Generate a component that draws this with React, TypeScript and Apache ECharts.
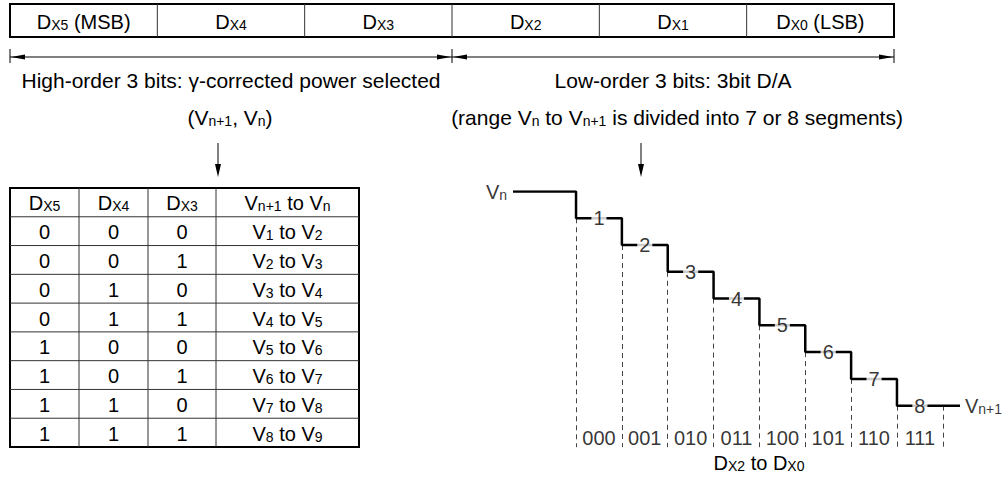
import React, { useEffect, useRef } from 'react';
import * as echarts from 'echarts';

// ---- data ----
const bitFieldSubs = ['X5', 'X4', 'X3', 'X2', 'X1', 'X0'];
const bitFieldNotes = [' (MSB)', '', '', '', '', ' (LSB)'];
const groupLabels = ['High-order 3 bits: γ-corrected power selected', 'Low-order 3 bits: 3bit D/A'];
const tableHeaderSubs = ['X5', 'X4', 'X3'];
const tableDx5 = [0, 0, 0, 0, 1, 1, 1, 1];
const tableDx4 = [0, 0, 1, 1, 0, 0, 1, 1];
const tableDx3 = [0, 1, 0, 1, 0, 1, 0, 1];
const rangeFrom = [1, 2, 3, 4, 5, 6, 7, 8];
const rangeTo = [2, 3, 4, 5, 6, 7, 8, 9];
const stepCodes = ['000', '001', '010', '011', '100', '101', '110', '111'];
const stepNumbers = [1, 2, 3, 4, 5, 6, 7, 8];
const leadIn = -1.375; // x where the Vn line starts (in step units)
const leadOut = 8.375; // x where the Vn+1 line ends
const dashBottom = 9.55; // level where the dashed guides end
const codeLevel = 9.22; // level of the code labels

const F = 'Liberation Sans, Arial, sans-serif';
const FS = 20;
const SS = 14;
const rich = {
  m: { fontSize: FS, fontFamily: F, color: '#000' },
  s: { fontSize: SS, fontFamily: F, color: '#000', verticalAlign: 'bottom' as const },
  c: { fontSize: 21, fontFamily: F, color: '#000' },
  cs: { fontSize: 14, fontFamily: F, color: '#000', verticalAlign: 'bottom' as const },
};

function txt(x: number, y: number, text: string, align: string = 'center') {
  return {
    type: 'text',
    x,
    y,
    style: { text, rich, fontFamily: F, fontSize: FS, fill: '#000', align, verticalAlign: 'middle' },
  };
}
function ln(x1: number, y1: number, x2: number, y2: number, w = 1, c = '#000') {
  return { type: 'line', shape: { x1, y1, x2, y2 }, style: { stroke: c, lineWidth: w } };
}
function tri(pts: number[][]) {
  return { type: 'polygon', shape: { points: pts }, style: { fill: '#000' } };
}

export default function App() {
  const ref = useRef<HTMLDivElement>(null);
  useEffect(() => {
    const chart = echarts.init(ref.current!, null, { renderer: 'svg' });
    const g: any[] = [];

    // header bar
    const bx = 10, by = 4, bw = 884, bh = 33;
    const cw = bw / bitFieldSubs.length;
    g.push({ type: 'rect', shape: { x: bx, y: by, width: bw, height: bh }, style: { fill: 'none', stroke: '#000', lineWidth: 2 } });
    bitFieldSubs.forEach((s, i) => {
      if (i > 0) g.push(ln(bx + cw * i, by, bx + cw * i, by + bh, 1, '#333'));
      g.push(txt(bx + cw * (i + 0.5), by + bh / 2 + 1, `{m|D}{s|${s}}{m|${bitFieldNotes[i]}}`));
    });

    // group arrows
    const ay = 57;
    const mid = bx + bw / 2, right = bx + bw;
    g.push(ln(bx, ay, right, ay, 1));
    [bx, mid, right].forEach((x) => g.push(ln(x, ay - 8, x, ay + 6, 1)));
    g.push(tri([[bx + 1, ay], [bx + 15, ay - 2.5], [bx + 15, ay + 2.5]]));
    g.push(tri([[mid - 1, ay], [mid - 15, ay - 2.5], [mid - 15, ay + 2.5]]));
    g.push(tri([[mid + 1, ay], [mid + 15, ay - 2.5], [mid + 15, ay + 2.5]]));
    g.push(tri([[right - 1, ay], [right - 15, ay - 2.5], [right - 15, ay + 2.5]]));
    g.push(txt((bx + mid) / 2, 80, `{c|${groupLabels[0]}}`));
    g.push(txt((mid + right) / 2, 80, `{c|${groupLabels[1]}}`));

    // sub captions + down arrows
    g.push(txt(230, 117, '{c|(V}{cs|n+1}{c|, V}{cs|n}{c|)}'));
    g.push(txt(677, 117, '{c|(range V}{cs|n}{c| to V}{cs|n+1}{c| is divided into 7 or 8 segments)}'));
    [218, 641].forEach((x) => {
      g.push(ln(x, 143, x, 170, 1));
      g.push(tri([[x, 177], [x - 3, 164], [x + 3, 164]]));
    });

    // table
    const tx = 10, ty = 188, tr = 359;
    const cols = [10, 79, 148, 216, 359];
    const rh = (447 - ty) / 9;
    g.push({ type: 'rect', shape: { x: tx, y: ty, width: tr - tx, height: rh * 9 }, style: { fill: 'none', stroke: '#000', lineWidth: 2 } });
    cols.slice(1, 4).forEach((x) => g.push(ln(x, ty, x, ty + rh * 9, 1, '#333')));
    for (let r = 1; r < 9; r++) g.push(ln(tx, ty + rh * r, tr, ty + rh * r, 1, '#333'));
    const cx = (c: number) => (cols[c] + cols[c + 1]) / 2;
    tableHeaderSubs.forEach((s, c) => g.push(txt(cx(c), ty + rh / 2 + 1, `{m|D}{s|${s}}`)));
    g.push(txt(cx(3), ty + rh / 2 + 1, '{m|V}{s|n+1}{m| to V}{s|n}'));
    tableDx5.forEach((_, r) => {
      const y = ty + rh * (r + 1.5) + 1;
      g.push(txt(cx(0), y, `{m|${tableDx5[r]}}`));
      g.push(txt(cx(1), y, `{m|${tableDx4[r]}}`));
      g.push(txt(cx(2), y, `{m|${tableDx3[r]}}`));
      g.push(txt(cx(3), y, `{m|V}{s|${rangeFrom[r]}}{m| to V}{s|${rangeTo[r]}}`));
    });
    g.push(txt(759, 463, '{m|D}{s|X2}{m| to D}{s|X0}'));

    // staircase data
    const stairs: number[][] = [[leadIn, 0]];
    stepNumbers.forEach((lvl, i) => {
      stairs.push([i, i === 0 ? 0 : stepNumbers[i - 1]]);
      stairs.push([i, lvl]);
    });
    stairs.push([leadOut, stepNumbers[stepNumbers.length - 1]]);

    const guides: any[] = [];
    for (let i = 0; i <= stepNumbers.length; i++) {
      const lvl = stepNumbers[Math.min(i, stepNumbers.length - 1)];
      guides.push([{ coord: [i, lvl] }, { coord: [i, dashBottom] }]);
    }

    const option: any = {
      animation: false,
      graphic: g,
      grid: { left: 513, top: 191.5, width: 447, height: 267.7 },
      xAxis: { type: 'value', min: leadIn, max: leadOut, show: false },
      yAxis: { type: 'value', min: 0, max: 10, inverse: true, show: false },
      series: [
        {
          type: 'line',
          data: stairs,
          symbol: 'none',
          lineStyle: { color: '#000', width: 2.5 },
          z: 3,
          markLine: {
            silent: true,
            symbol: 'none',
            label: { show: false },
            lineStyle: { color: '#444', type: [5, 4], width: 1 },
            data: guides,
            z: 1,
          },
        },
        {
          type: 'scatter',
          symbolSize: 0,
          z: 5,
          data: stepNumbers.map((n, i) => [i + 0.5, n]),
          label: {
            show: true,
            position: 'inside',
            formatter: (p: any) => String(stepNumbers[p.dataIndex]),
            fontFamily: F,
            fontSize: FS,
            color: '#000',
            backgroundColor: '#fff',
            padding: [0, 2],
          },
        },
        {
          type: 'scatter',
          symbolSize: 0,
          data: stepCodes.map((c, i) => [i + 0.5, codeLevel]),
          label: {
            show: true,
            position: 'inside',
            formatter: (p: any) => stepCodes[p.dataIndex],
            fontFamily: F,
            fontSize: FS,
            color: '#000',
          },
        },
        {
          type: 'scatter',
          symbolSize: 0,
          data: [
            { value: [leadIn, 0], label: { position: 'left', formatter: '{m|V}{s|n}', distance: 6 } },
            { value: [leadOut, stepNumbers[stepNumbers.length - 1]], label: { position: 'right', formatter: '{m|V}{s|n+1}', distance: 5 } },
          ],
          label: { show: true, rich },
        },
      ],
    };
    chart.setOption(option);
    return () => chart.dispose();
  }, []);
  return <div ref={ref} style={{ position: 'absolute', left: 0, top: 0, width: 1007, height: 478 }} />;
}
